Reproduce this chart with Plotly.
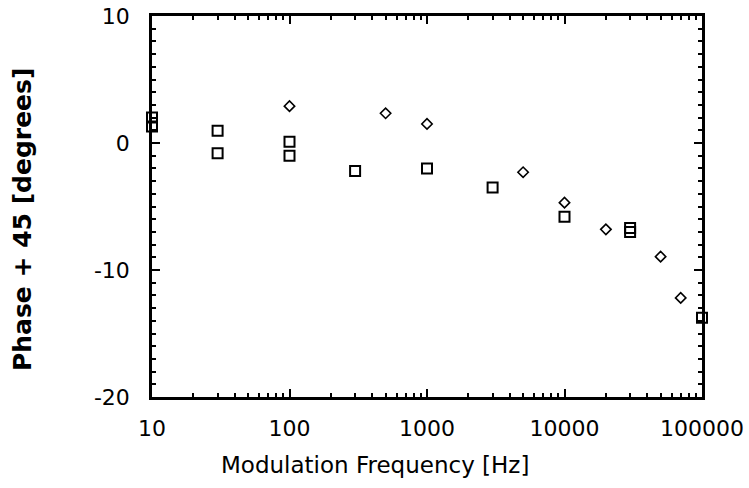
import plotly.graph_objects as go

# Squares series
sq_freq = [10, 10, 30, 30, 100, 100, 300, 1000, 3000, 10000, 30000, 30000, 100000]
sq_phase = [2.0, 1.3, 0.97, -0.8, 0.1, -1.0, -2.2, -2.0, -3.5, -5.8, -6.7, -7.0, -13.75]

# Diamonds series
dm_freq = [100, 500, 1000, 5000, 10000, 20000, 50000, 70000]
dm_phase = [2.9, 2.34, 1.5, -2.3, -4.7, -6.8, -8.95, -12.2]

x_tickvals = [10, 100, 1000, 10000, 100000]
x_ticktext = ["10", "100", "1000", "10000", "100000"]
x_minor_vals = [m * d for d in [10, 100, 1000, 10000] for m in range(2, 10)]
y_tickvals = [-20, -10, 0, 10]
y_ticktext = ["-20", "-10", "0", "10"]

x_title = "Modulation Frequency [Hz]"
y_title = "<b>Phase + 45 [degrees]</b>"

fig = go.Figure()
fig.add_trace(go.Scatter(
    x=sq_freq, y=sq_phase, mode="markers",
    marker=dict(symbol="square-open", size=10, color="black", line=dict(width=2, color="black")),
    showlegend=False, cliponaxis=False))
fig.add_trace(go.Scatter(
    x=dm_freq, y=dm_phase, mode="markers",
    marker=dict(symbol="diamond-open", size=8, color="black", line=dict(width=1.6, color="black")),
    showlegend=False, cliponaxis=False))

font_family = "DejaVu Sans"
fig.update_layout(
    width=749, height=488,
    margin=dict(l=152, r=47, t=16, b=91),
    paper_bgcolor="white", plot_bgcolor="white",
    font=dict(family=font_family, color="black"),
    annotations=[
        dict(text=x_title, xref="paper", yref="paper", x=0.405, y=-0.178,
             xanchor="center", yanchor="middle", showarrow=False,
             font=dict(size=23, family=font_family, color="black")),
        dict(text=y_title, xref="paper", yref="paper", x=-0.2345, y=0.4646,
             xanchor="center", yanchor="middle", showarrow=False, textangle=-90,
             font=dict(size=25, family=font_family, color="black")),
    ],
)
fig.update_xaxes(
    type="log", range=[1, 5], automargin=False,
    tickvals=x_tickvals, ticktext=x_ticktext,
    ticks="inside", ticklen=8, tickwidth=2, tickcolor="black",
    minor=dict(tickvals=x_minor_vals, ticks="inside", ticklen=4, tickwidth=1.5,
               tickcolor="black", showgrid=False),
    showline=True, linecolor="black", linewidth=2.5, mirror="allticks",
    showgrid=False, zeroline=False,
    ticklabelstandoff=10,
    tickfont=dict(size=22, family=font_family),
)
fig.update_yaxes(
    range=[-20, 10], automargin=False,
    tickvals=y_tickvals, ticktext=y_ticktext,
    ticks="inside", ticklen=8, tickwidth=2, tickcolor="black",
    minor=dict(ticks="inside", ticklen=4, tickwidth=1.5, tickcolor="black", dtick=1, showgrid=False),
    showline=True, linecolor="black", linewidth=2.5, mirror="allticks",
    showgrid=False, zeroline=False,
    ticklabelstandoff=15,
    tickfont=dict(size=22, family=font_family),
)

fig.write_html("out.html", config={"displayModeBar": False},
               post_script="document.body.style.margin='0';")
